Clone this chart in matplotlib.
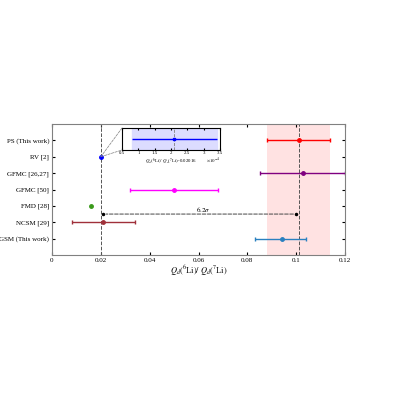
import numpy as np
import matplotlib
matplotlib.use("Agg")
import matplotlib.pyplot as plt
from matplotlib.patches import ConnectionPatch

plt.rcParams['font.family'] = ['Liberation Serif', 'DejaVu Serif']
plt.rcParams['mathtext.fontset'] = 'stix'

labels = ['PS (This work)', 'RV [2]', 'GFMC [26,27]', 'GFMC [50]', 'FMD [28]', 'NCSM [29]', 'GSM (This work)']
values = [0.101, 0.020, 0.103, 0.050, 0.016, 0.021, 0.094]
err_lo = [0.013, 0.0, 0.018, 0.018, 0.0, 0.013, 0.011]
err_hi = [0.013, 0.0, 0.017, 0.018, 0.0, 0.013, 0.010]
colors = ['red', 'blue', 'purple', 'magenta', '#3a9a1a', '#a0303a', '#2a80c0']
band = (0.088, 0.114)
inset_val = 2.1
inset_lo, inset_hi = 0.8, 3.4

fig = plt.figure(figsize=(4, 4), dpi=100)
ax = fig.add_axes([0.13, 0.3625, 0.7325, 0.3275])
ypos = np.arange(len(labels))[::-1]
ax.axvspan(band[0], band[1], color='#ffd6d6', alpha=0.7, lw=0)
ax.axvline(0.020, color='#555555', ls='--', lw=0.7)
ax.axvline(0.101, color='#555555', ls='--', lw=0.7)
for y, v, lo, hi, c in zip(ypos, values, err_lo, err_hi, colors):
    if lo == 0 and hi == 0:
        ax.plot(v, y, 'o', color=c, ms=2.5)
    else:
        ax.errorbar(v, y, xerr=[[lo], [hi]], fmt='o', color=c, ms=2.5, capsize=1.5, lw=1)
ax.annotate('', xy=(0.021, 1.5), xytext=(0.100, 1.5),
            arrowprops=dict(arrowstyle='-', ls='--', color='#444444', lw=0.7))
ax.plot([0.021, 0.100], [1.5, 1.5], 'k.', ms=3)
ax.text(0.062, 1.62, r'$6.2\sigma$', fontsize=5, ha='center')
ax.set_xlim(0, 0.12)
ax.set_ylim(-1, 7)
ax.set_yticks(ypos)
ax.set_yticklabels(labels, fontsize=5)
ax.set_xticks([0, 0.02, 0.04, 0.06, 0.08, 0.1, 0.12])
ax.set_xticklabels(['0', '0.02', '0.04', '0.06', '0.08', '0.1', '0.12'], fontsize=5)
ax.set_xlabel(r'$Q_d(^6$Li$)/\ Q_d(^7$Li$)$', fontsize=6, labelpad=1)
ax.tick_params(direction='in', length=2, pad=2, top=True, right=True)
for s in ax.spines.values():
    s.set_color('gray')

ins = fig.add_axes([0.305, 0.625, 0.245, 0.055])
ins.axvspan(inset_lo, inset_hi, color='#dcdcff')
ins.axvline(inset_val, color='gray', ls='--', lw=0.6)
ins.errorbar(inset_val, 0, xerr=[[inset_val - inset_lo], [inset_hi - inset_val]], fmt='s', color='blue', ms=2, lw=1)
ins.set_xlim(0.5, 3.5)
ins.set_ylim(-1, 1)
ins.set_yticks([])
ins.set_xticks([0.5, 1, 1.5, 2, 2.5, 3, 3.5])
ins.set_xticklabels(['0.5', '1', '1.5', '2', '2.5', '3', '3.5'], fontsize=3.5)
ins.tick_params(direction='in', length=1.5, pad=1, top=True)
ins.set_xlabel(r'$Q_d(^6$Li$)/\ Q_d(^7$Li$)$-0.02016', fontsize=3.5, labelpad=1)
ins.text(1.0, -0.55, r'$\times10^{-4}$', transform=ins.transAxes, fontsize=3.5, ha='right')
for yy in (0, 1):
    con = ConnectionPatch(xyA=(0.020, 5), coordsA=ax.transData, xyB=(0, yy), coordsB=ins.transAxes,
                          color='gray', ls='--', lw=0.5)
    fig.add_artist(con)

fig.savefig('out.png', dpi=100)
